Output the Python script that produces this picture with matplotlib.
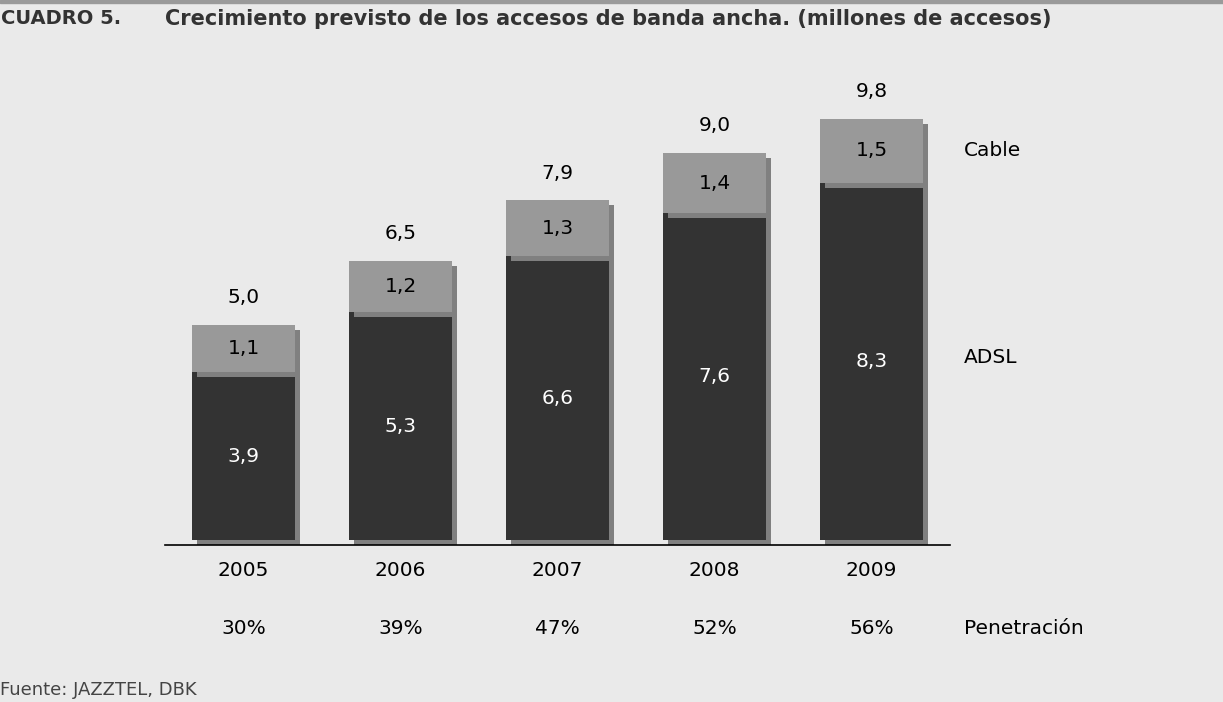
import matplotlib.pyplot as plt
import matplotlib.transforms as mtransforms
from matplotlib.patches import Rectangle
import numpy as np

years = ["2005", "2006", "2007", "2008", "2009"]
adsl = [3.9, 5.3, 6.6, 7.6, 8.3]
cable = [1.1, 1.2, 1.3, 1.4, 1.5]
totals = [5.0, 6.5, 7.9, 9.0, 9.8]
penetracion = ["30%", "39%", "47%", "52%", "56%"]

BG = "#EAEAEA"
DARK = "#333333"
LIGHT = "#999999"
SHADOW = "#808080"

fig = plt.figure(figsize=(12.23, 7.02), dpi=100, facecolor=BG)
plt.rcParams["font.family"] = ["DejaVu Sans"]

# axes placed in pixels: baseline at 545 px from top, 43 px per million
W, H = 1223, 702
ax = fig.add_axes([165 / W, (H - 545) / H, 785 / W, 485 / H])
ax.set_facecolor(BG)
ax.set_xlim(-0.5, 4.5)
ax.set_ylim(-5 / 43, -5 / 43 + 485 / 43)

x = np.arange(len(years))
bw = 0.662

# drop shadow: same bars shifted 5 px right and down
shadow = ax.transData + mtransforms.ScaledTranslation(5 / 100, -5 / 100, fig.dpi_scale_trans)

ax.bar(x, adsl, bw, color=SHADOW, transform=shadow, zorder=1)
ax.bar(x, adsl, bw, color=DARK, zorder=2)
ax.bar(x, cable, bw, bottom=adsl, color=SHADOW, transform=shadow, zorder=3)
ax.bar(x, cable, bw, bottom=adsl, color=LIGHT, zorder=4)

fs = 14.5
for i in range(len(years)):
    ax.text(x[i], adsl[i] / 2, f"{adsl[i]:.1f}".replace(".", ","), ha="center", va="center",
            color="white", fontsize=fs, zorder=5)
    ax.text(x[i], adsl[i] + cable[i] / 2, f"{cable[i]:.1f}".replace(".", ","), ha="center",
            va="center", color="black", fontsize=fs, zorder=5)
    ax.annotate(f"{totals[i]:.1f}".replace(".", ","), (x[i], totals[i]), xytext=(0, 19.5),
                textcoords="offset points", ha="center", va="center", fontsize=fs)
    ax.annotate(years[i], (x[i], 0), xytext=(0, -22.3), textcoords="offset points",
                ha="center", va="center", fontsize=fs, annotation_clip=False)
    ax.annotate(penetracion[i], (x[i], 0), xytext=(0, -63.4), textcoords="offset points",
                ha="center", va="center", fontsize=fs, annotation_clip=False)

# series names on the right
xr = (963 - 243) / 157
ax.text(xr, (540 - 150) / 43, "Cable", ha="left", va="center", fontsize=fs, clip_on=False)
ax.text(xr, (540 - 357) / 43, "ADSL", ha="left", va="center", fontsize=fs, clip_on=False)
ax.annotate("Penetración", (xr, 0), xytext=(0, -63.4), textcoords="offset points",
            ha="left", va="center", fontsize=fs, annotation_clip=False)

for s in ["top", "right", "left"]:
    ax.spines[s].set_visible(False)
ax.spines["bottom"].set_color("black")
ax.spines["bottom"].set_linewidth(1.2)
ax.set_xticks([])
ax.set_yticks([])

# header
fig.patches.append(Rectangle((0, 1 - 3 / H), 1, 3 / H, transform=fig.transFigure,
                             color="#9A9A9A", zorder=0))
fig.text(1 / W, 1 - 19 / H, "CUADRO 5.", fontsize=14, fontweight="bold", color="#333333",
         ha="left", va="center")
fig.text(165 / W, 1 - 19 / H,
         "Crecimiento previsto de los accesos de banda ancha. (millones de accesos)",
         fontsize=15, fontweight="bold", color="#333333", ha="left", va="center")
fig.text(0, 1 - 690 / H, "Fuente: JAZZTEL, DBK", fontsize=13, color="#444444",
         ha="left", va="center")

fig.savefig("out.png", dpi=100, facecolor=BG)
